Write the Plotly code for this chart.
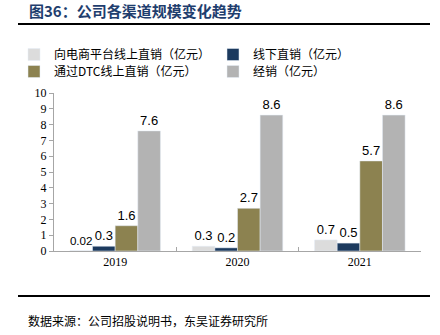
import plotly.graph_objects as go

years = ["2019", "2020", "2021"]
series_names = ["向电商平台线上直销（亿元）", "线下直销（亿元）", "通过DTC线上直销（亿元）", "经销（亿元）"]
ecommerce = [0.02, 0.3, 0.7]
offline = [0.3, 0.2, 0.5]
dtc = [1.6, 2.7, 5.7]
distribution = [7.6, 8.6, 8.6]
colors = ["#DCDCDC", "#1C3A5E", "#8C8250", "#B3B3B3"]
legend_ids = ["legend", "legend2", "legend3", "legend4"]

fig = go.Figure()
for name, vals, col, lg in zip(series_names, [ecommerce, offline, dtc, distribution], colors, legend_ids):
    fig.add_trace(go.Bar(
        x=years, y=vals, name=name, marker_color=col, legend=lg,
        text=[str(v) for v in vals], textposition="outside",
        textfont=dict(family="Liberation Sans, Arial", size=13, color="#000000"),
        cliponaxis=False,
    ))

L, R, T, B = 54, 19, 93, 84
pw = 440 - L - R
ph = 335 - T - B

def px2paper_x(px):
    return (px - L) / pw

def px2paper_y(py):
    return (335 - B - py) / ph

def leg(xpx, ypx):
    return dict(
        orientation="h", xref="container", yref="container",
        x=xpx / 440, y=1 - ypx / 335,
        xanchor="left", yanchor="top", itemwidth=30,
        font=dict(family="Noto Sans CJK SC", size=12, color="#000000"),
        bgcolor="rgba(0,0,0,0)",
    )

fig.update_layout(
    width=440, height=335,
    margin=dict(l=L, r=R, t=T, b=B, autoexpand=False),
    paper_bgcolor="white", plot_bgcolor="white",
    barmode="group", bargap=0.26, bargroupgap=0,
    showlegend=True,
    legend=leg(14, 40),
    legend2=leg(213, 40),
    legend3=leg(14, 57),
    legend4=leg(213, 57),
    xaxis=dict(
        showline=True, linecolor="#A6A6A6", linewidth=1,
        ticks="inside", ticklen=4, tickcolor="#A6A6A6", tickson="boundaries",
        tickfont=dict(family="Liberation Serif", size=12, color="#000000"),
        showgrid=False,
    ),
    yaxis=dict(
        range=[0, 10], dtick=1, showline=True, linecolor="#A6A6A6", linewidth=1,
        ticks="outside", ticklen=4, tickcolor="#A6A6A6",
        tickfont=dict(family="Liberation Serif", size=12, color="#000000"),
        showgrid=False, zeroline=False,
    ),
    shapes=[
        dict(type="line", xref="paper", yref="paper",
             x0=px2paper_x(18), x1=px2paper_x(430), y0=px2paper_y(24), y1=px2paper_y(24),
             line=dict(color="#000000", width=2)),
        dict(type="line", xref="paper", yref="paper",
             x0=px2paper_x(18), x1=px2paper_x(430), y0=px2paper_y(296), y1=px2paper_y(296),
             line=dict(color="#000000", width=2)),
    ],
    annotations=[
        dict(text="<b>图36：公司各渠道规模变化趋势</b>", xref="paper", yref="paper",
             x=px2paper_x(27), y=px2paper_y(11), xanchor="left", yanchor="middle",
             showarrow=False, font=dict(family="Noto Sans CJK SC", size=15, color="#1F3E6E")),
        dict(text="数据来源：公司招股说明书，东吴证券研究所", xref="paper", yref="paper",
             x=px2paper_x(26), y=px2paper_y(320), xanchor="left", yanchor="middle",
             showarrow=False, font=dict(family="Noto Sans CJK SC", size=12, color="#000000")),
    ],
)

fig.write_html("out.html")
